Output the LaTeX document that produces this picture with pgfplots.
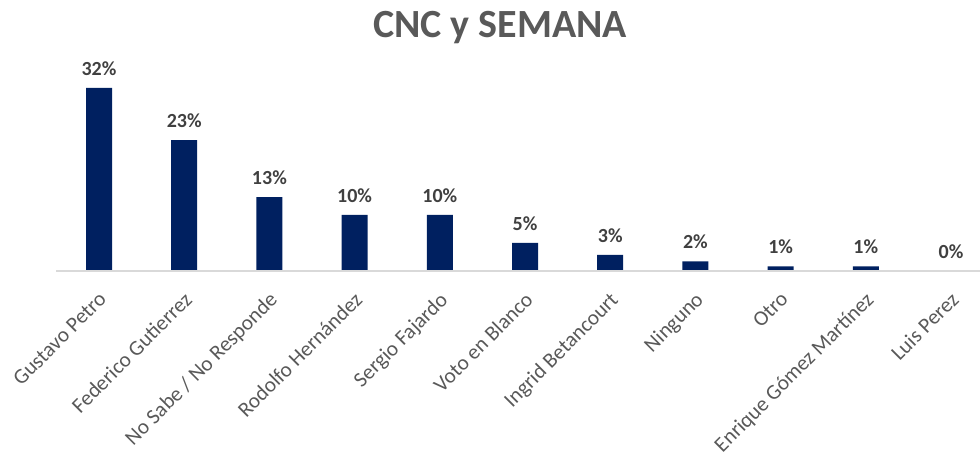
\documentclass[border=0pt]{standalone}
\usepackage{pgfplots}
\pgfplotsset{compat=1.18}
\usepackage{fontspec}
\setmainfont{Carlito}
\definecolor{barblue}{HTML}{002060}
\definecolor{titlegray}{HTML}{595959}
\definecolor{labgray}{HTML}{404040}
\definecolor{axgray}{HTML}{D9D9D9}
\begin{document}
\begin{tikzpicture}[x=0.75pt,y=0.75pt]
\path[use as bounding box] (0,0) rectangle (980,451);
\node[font=\fontsize{30}{36}\selectfont\bfseries, text=titlegray, anchor=base] at (500,413) {CNC y SEMANA};
\begin{axis}[
  at={(42.3pt,135pt)}, anchor=south west,
  scale only axis,
  width=692.7pt, height=171.6pt,
  xmin=-0.5, xmax=10.34, ymin=0, ymax=40,
  axis line style={draw=none},
  axis x line*=bottom,
  hide y axis,
  xtick=data,
  xticklabels={Gustavo Petro, Federico Gutierrez, No Sabe / No Responde, Rodolfo Hernández, Sergio Fajardo, Voto en Blanco, Ingrid Betancourt, Ninguno, Otro, Enrique Gómez Martínez, Luis Perez},
  xticklabel style={rotate=45, anchor=north east, font=\fontsize{16}{19}\selectfont, text=titlegray, inner sep=0pt, xshift=-11pt, yshift=-9.5pt},
  major tick length=0pt,
  ybar, bar width=19.5pt,
  clip=false,
  nodes near coords={\pgfmathprintnumber[fixed,precision=0,assume math mode=true]{\pgfplotspointmeta}\%},
  point meta=explicit,
  every node near coord/.append style={font=\fontsize{15}{18}\selectfont\bfseries, text=labgray, yshift=6pt},
]
\addplot[fill=barblue, draw=none] table[meta=m] {
x y m
0 32 32
1 22.9 23
2 12.9 13
3 9.8 10
4 9.8 10
5 4.9 5
6 2.8 3
7 1.7 2
8 0.8 1
9 0.8 1
10 0 0
};
\draw[axgray, line width=1.2pt] (axis cs:-0.5,0) -- (axis cs:10.34,0);
\end{axis}
\end{tikzpicture}
\end{document}
